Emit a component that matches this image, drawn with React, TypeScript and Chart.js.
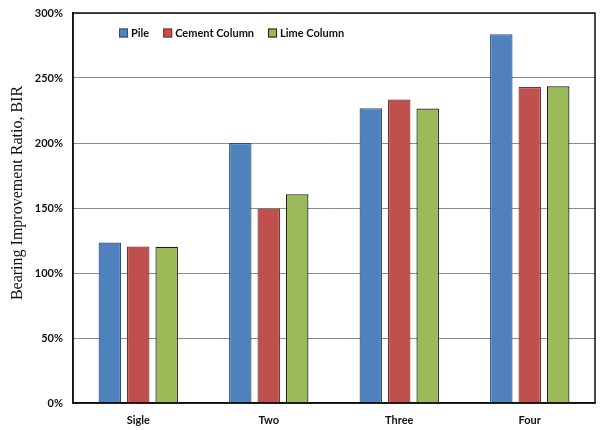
import { useEffect, useRef } from "react";
import { Chart, registerables } from "chart.js";

Chart.register(...registerables);

const categories = ["Sigle", "Two", "Three", "Four"];
const seriesNames = ["Pile", "Cement Column", "Lime Column"];
const pile = [123.5, 200, 226.7, 283.6];
const cementColumn = [120.4, 149.6, 233.4, 243.1];
const limeColumn = [120.2, 160.5, 226.5, 243.6];
const yTickStep = 50;
const yMax = 300;
const yTitle = "Bearing Improvement Ratio, BIR";

const fillColors = ["#4F81BD", "#C0504D", "#9BBB59"];
const edgeColors = ["#2F4F78", "#7A302E", "#1c1c1c"];
const sansBold = { family: "Lato, 'Liberation Sans', sans-serif", size: 11, weight: "bold" as const };

// frame around the plot, the legend inside it and the rotated y title
const framePlugin = {
  id: "frameAndLegend",
  afterDatasetsDraw(chart: Chart) {
    const { ctx, chartArea } = chart;
    ctx.save();
    ctx.strokeStyle = "#111";
    ctx.lineWidth = 1.5;
    ctx.strokeRect(chartArea.left, chartArea.top, chartArea.right - chartArea.left, chartArea.bottom - chartArea.top);
    ctx.restore();
  },
  afterDraw(chart: Chart) {
    const { ctx, chartArea } = chart;
    ctx.save();
    ctx.font = `bold 11px Lato, 'Liberation Sans', sans-serif`;
    ctx.textBaseline = "middle";
    let x = chartArea.left + 46;
    const y = chartArea.top + 20;
    chart.data.datasets.forEach((ds, i) => {
      ctx.fillStyle = fillColors[i];
      ctx.fillRect(x, y - 4.5, 9, 9);
      ctx.strokeStyle = edgeColors[i];
      ctx.lineWidth = 1;
      ctx.strokeRect(x + 0.5, y - 4, 8, 8);
      ctx.fillStyle = "#111";
      ctx.fillText(String(ds.label), x + 12, y + 0.5);
      x += 12 + ctx.measureText(String(ds.label)).width + 14;
    });
    ctx.restore();

    // y axis title, sits a little above the plot's middle
    ctx.save();
    ctx.translate(18, (chartArea.top + chartArea.bottom) / 2 - 15);
    ctx.rotate(-Math.PI / 2);
    ctx.font = `16px 'Liberation Serif', 'Times New Roman', serif`;
    ctx.fillStyle = "#111";
    ctx.textAlign = "center";
    ctx.textBaseline = "middle";
    ctx.fillText(yTitle, 0, 0);
    ctx.restore();
  },
};

const BirChart = () => {
  const canvasRef = useRef<HTMLCanvasElement | null>(null);

  useEffect(() => {
    document.body.style.margin = "0";
    if (!canvasRef.current) return;
    const values = [pile, cementColumn, limeColumn];
    const chart = new Chart(canvasRef.current, {
      type: "bar",
      data: {
        labels: categories,
        datasets: seriesNames.map((name, i) => ({
          label: name,
          data: values[i],
          backgroundColor: fillColors[i],
          borderColor: edgeColors[i],
          borderWidth: 1.2,
          categoryPercentage: 0.654,
          barPercentage: 0.79,
        })),
      },
      options: {
        responsive: false,
        animation: false,
        layout: { padding: { top: 13, right: 6, left: 0, bottom: 0 } },
        plugins: {
          legend: { display: false },
          tooltip: { enabled: false },
        },
        scales: {
          x: {
            grid: { display: false },
            border: { display: true, color: "#111", width: 1.5 },
            ticks: { color: "#111", font: sansBold, padding: 3 },
            afterFit: (scale) => {
              scale.height = 27;
            },
          },
          y: {
            min: 0,
            max: yMax,
            ticks: {
              stepSize: yTickStep,
              color: "#111",
              font: sansBold,
              padding: 10,
              callback: (v) => `${v}%`,
            },
            grid: { color: "#8a8a8a", lineWidth: 1, drawTicks: false },
            border: { display: true, color: "#111", width: 1.5 },
            afterFit: (scale) => {
              scale.width = 73;
              scale.paddingTop = 0;
              scale.paddingBottom = 0;
            },
          },
        },
      },
      plugins: [framePlugin],
    });
    return () => {
      chart.destroy();
    };
  }, []);

  return (
    <div style={{ width: 601, height: 430, background: "#fff" }}>
      <canvas ref={canvasRef} width={601} height={430} />
    </div>
  );
};

export default function App() {
  return <BirChart />;
}
